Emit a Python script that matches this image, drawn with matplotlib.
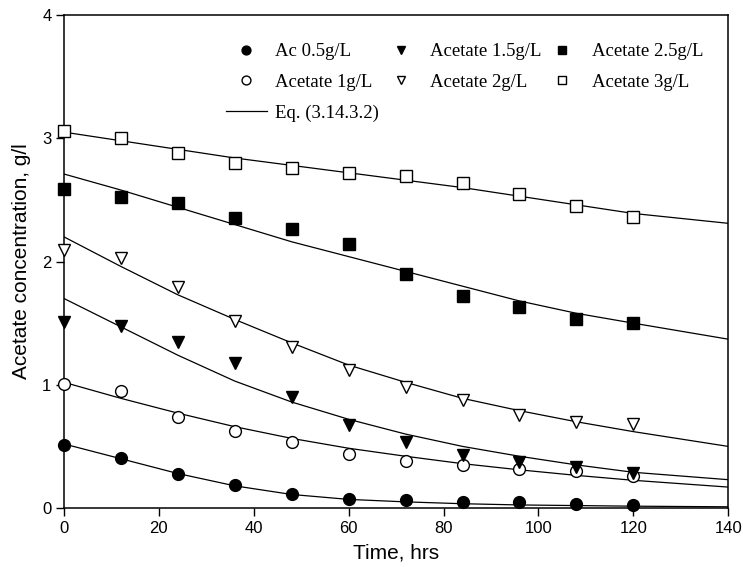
import matplotlib
matplotlib.use("Agg")
import matplotlib.pyplot as plt

# measured data (time in hrs, acetate in g/l)
t = [0, 12, 24, 36, 48, 60, 72, 84, 96, 108, 120]
ac05 = [0.51, 0.405, 0.275, 0.19, 0.115, 0.075, 0.065, 0.05, 0.045, 0.03, 0.025]
ac1 = [1.01, 0.95, 0.74, 0.625, 0.535, 0.44, 0.38, 0.35, 0.315, 0.30, 0.26]
ac15 = [1.51, 1.48, 1.35, 1.18, 0.90, 0.67, 0.535, 0.43, 0.375, 0.335, 0.285]
ac2 = [2.09, 2.03, 1.79, 1.52, 1.31, 1.12, 0.98, 0.875, 0.755, 0.70, 0.68]
ac25 = [2.59, 2.52, 2.475, 2.35, 2.26, 2.14, 1.90, 1.72, 1.63, 1.53, 1.50]
ac3 = [3.06, 3.00, 2.88, 2.80, 2.76, 2.72, 2.69, 2.64, 2.55, 2.45, 2.36]

# model curves Eq. (3.14.3.2)
t_fit = [0, 12, 24, 36, 48, 60, 72, 84, 96, 108, 120, 140]
fit05 = [0.52, 0.40, 0.28, 0.18, 0.11, 0.07, 0.05, 0.035, 0.025, 0.02, 0.015, 0.01]
fit1 = [1.02, 0.89, 0.77, 0.66, 0.565, 0.485, 0.42, 0.36, 0.31, 0.265, 0.225, 0.17]
fit15 = [1.70, 1.47, 1.24, 1.03, 0.86, 0.72, 0.60, 0.50, 0.42, 0.35, 0.29, 0.23]
fit2 = [2.20, 1.96, 1.73, 1.53, 1.34, 1.16, 1.02, 0.89, 0.79, 0.70, 0.62, 0.50]
fit25 = [2.71, 2.58, 2.44, 2.30, 2.16, 2.04, 1.92, 1.80, 1.68, 1.58, 1.50, 1.37]
fit3 = [3.05, 2.98, 2.91, 2.84, 2.78, 2.72, 2.66, 2.60, 2.53, 2.46, 2.39, 2.31]

fig = plt.figure(figsize=(7.43, 5.67), dpi=100)
ax = fig.add_axes([0.0861, 0.104, 0.894, 0.8695])

lw = 0.9
for f in [fit05, fit1, fit15, fit2, fit25, fit3]:
    ax.plot(t_fit, f, color='black', lw=lw, zorder=1)

ms = 8.5
open_kw = dict(mfc='white', mec='black', mew=1.0, ls='none', zorder=3, clip_on=False)
fill_kw = dict(color='black', ls='none', zorder=3, clip_on=False)
h05, = ax.plot(t, ac05, 'o', ms=ms, **fill_kw)
h1, = ax.plot(t, ac1, 'o', ms=ms, **open_kw)
h15, = ax.plot(t, ac15, 'v', ms=ms, **fill_kw)
h2, = ax.plot(t, ac2, 'v', ms=ms, **open_kw)
h25, = ax.plot(t, ac25, 's', ms=ms - 0.5, **fill_kw)
h3, = ax.plot(t, ac3, 's', ms=ms - 0.5, **open_kw)
heq, = ax.plot([], [], color='black', lw=lw)

# legend fills column by column
handles = [h05, h1, heq, h15, h2, h25, h3]
labels = ['Ac 0.5g/L', 'Acetate 1g/L', 'Eq. (3.14.3.2)', 'Acetate 1.5g/L',
          'Acetate 2g/L', 'Acetate 2.5g/L', 'Acetate 3g/L']
ax.legend(handles, labels, ncol=3, frameon=False, loc='upper left',
          bbox_to_anchor=(0.232, 0.958), prop={'family': 'Liberation Serif', 'size': 13.5},
          handlelength=2.2, handletextpad=0.45, columnspacing=0.04, labelspacing=0.72,
          markerscale=0.75, borderaxespad=0)

ax.set_xlim(0, 140)
ax.set_ylim(0, 4)
ax.set_xticks(range(0, 141, 20))
ax.set_yticks(range(0, 5))
ax.tick_params(direction='out', length=6, width=1, labelsize=12, pad=3,
               top=False, right=False)
for lab in ax.get_xticklabels() + ax.get_yticklabels():
    lab.set_family('Liberation Sans')
for s in ax.spines.values():
    s.set_linewidth(1.1)

ax.set_xlabel('Time, hrs', fontsize=15, family='Liberation Sans', labelpad=6)
ax.set_ylabel('Acetate concentration, g/l', fontsize=15, family='Liberation Sans', labelpad=8)

fig.savefig('out.png', dpi=100)
